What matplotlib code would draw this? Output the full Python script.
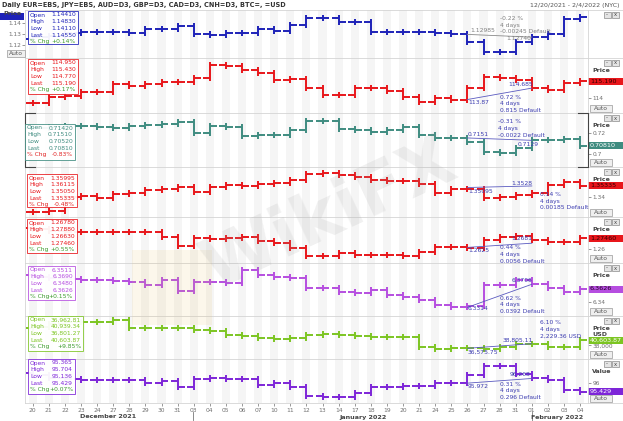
import matplotlib
matplotlib.use("Agg")
import matplotlib.pyplot as plt
import matplotlib.transforms as mtransforms
from matplotlib.patches import Rectangle

W, H = 623, 421

day_labels = ["20", "21", "22", "23", "24", "27", "28", "29", "30", "31",
              "03", "04", "05", "06", "07", "10", "11", "12", "13", "14", "17",
              "18", "19", "20", "21", "24", "25", "26", "27", "28", "31",
              "01", "02", "03", "04"]

# daily closes (open = previous close)
eur_open0 = 1.1257
eur_close = [1.1275, 1.1284, 1.1311, 1.1317, 1.1317, 1.1317, 1.1315, 1.1344, 1.1344, 1.1376,
             1.1299, 1.1293, 1.1308, 1.1308, 1.1344, 1.1331, 1.1378, 1.1442, 1.1449, 1.1412,
             1.1409, 1.1322, 1.1322, 1.1317, 1.1317, 1.1311, 1.1299, 1.1233, 1.1144, 1.1144,
             1.1233, 1.1272, 1.1299, 1.1436, 1.1455]
jpy_open0 = 113.62
jpy_close = [113.60, 114.07, 114.14, 114.43, 114.43, 114.96, 114.86, 114.96, 115.10, 115.14,
             115.39, 116.34, 116.26, 115.98, 115.74, 115.26, 115.34, 114.67, 114.19, 114.19,
             114.67, 114.71, 114.48, 114.07, 113.71, 114.00, 113.87, 114.71, 115.50, 115.43,
             115.26, 114.685, 114.55, 115.03, 115.19]
aud_open0 = 0.7240
aud_close = [0.7240, 0.7250, 0.7262, 0.7262, 0.7250, 0.7246, 0.7262, 0.7271, 0.7278, 0.7302,
             0.7194, 0.7262, 0.7256, 0.7169, 0.7179, 0.7179, 0.7222, 0.7311, 0.7311, 0.7234,
             0.7225, 0.7204, 0.7225, 0.7256, 0.7179, 0.7148, 0.7151, 0.7111, 0.7019, 0.7009,
             0.7061, 0.7129, 0.7132, 0.7142, 0.7081]
gbp_open0 = 1.3215
gbp_close = [1.3221, 1.3233, 1.3400, 1.3408, 1.3381, 1.3432, 1.3441, 1.3480, 1.3488, 1.3512,
             1.3460, 1.3512, 1.3539, 1.3528, 1.3551, 1.3560, 1.3599, 1.3671, 1.3679, 1.3659,
             1.3638, 1.3599, 1.3591, 1.3591, 1.3551, 1.3448, 1.3488, 1.3488, 1.3388, 1.3396,
             1.3420, 1.3448, 1.3539, 1.3579, 1.3533]
cad_open0 = 1.2880
cad_close = [1.2866, 1.2847, 1.2834, 1.2834, 1.2826, 1.2834, 1.2826, 1.2834, 1.2767, 1.2644,
             1.2746, 1.2733, 1.2746, 1.2767, 1.2714, 1.2680, 1.2613, 1.2511, 1.2511, 1.2547,
             1.2524, 1.2524, 1.2524, 1.2511, 1.2568, 1.2635, 1.2625, 1.2613, 1.2724, 1.2767,
             1.2777, 1.2724, 1.2701, 1.2701, 1.2746]
cnh_open0 = 6.3864
cnh_close = [6.3830, 6.3813, 6.3796, 6.3779, 6.3779, 6.3767, 6.3750, 6.3694, 6.3779, 6.3597,
             6.3750, 6.3750, 6.3733, 6.3949, 6.3864, 6.3825, 6.3808, 6.3638, 6.3638, 6.3580,
             6.3553, 6.3609, 6.3524, 6.3490, 6.3439, 6.3354, 6.3314, 6.3330, 6.3694, 6.3694,
             6.3779, 6.3706, 6.3638, 6.3575, 6.3626]
btc_open0 = 46424
btc_close = [46909, 48364, 49334, 49480, 49480, 50304, 46278, 46278, 46278, 46278,
             45454, 45115, 43029, 42690, 41429, 41089, 41429, 43029, 43756, 43029,
             42544, 42301, 42205, 41817, 37209, 36239, 36576, 36576, 36239, 37354,
             38518, 38805, 37064, 37064, 40604]
usd_open0 = 96.595
usd_close = [96.487, 96.297, 96.234, 96.171, 96.171, 96.171, 96.171, 95.962, 96.108, 95.747,
             96.215, 96.278, 96.215, 96.215, 95.854, 95.962, 95.747, 95.177, 95.114, 95.076,
             95.367, 95.747, 95.747, 95.791, 95.791, 95.962, 95.972, 96.487, 97.057, 97.057,
             96.532, 96.268, 96.171, 95.538, 95.429]

# data window boxes (Open, High, Low, Last, % Chg)
eur_box = ["1.14410", "1.14830", "1.14110", "1.14550", "+0.14%"]
jpy_box = ["114.950", "115.430", "114.770", "115.190", "+0.17%"]
aud_box = ["0.71420", "0.71510", "0.70520", "0.70810", "-0.83%"]
gbp_box = ["1.35995", "1.36115", "1.35050", "1.35335", "-0.48%"]
cad_box = ["1.26780", "1.27880", "1.26630", "1.27460", "+0.55%"]
cnh_box = ["6.3511", "6.3690", "6.3480", "6.3626", "+0.15%"]
btc_box = ["36,962.81", "40,939.34", "36,801.27", "40,603.87", "+9.85%"]
usd_box = ["95.365", "95.704", "95.136", "95.429", "+0.07%"]

# measuring-tool annotations (Jan 26 -> Feb 1)
ann_start = [1.12985, 113.87, 0.7151, 1.35095, 1.2625, 6.3314, 36575.75, 95.972]
ann_end = [1.12740, 114.685, 0.7129, 1.3528, 1.2681, 6.3706, 38805.11, 96.268]
ann_start_txt = ["1.12985", "113.87", "0.7151", "1.35095", "1.2625", "6.3314", "36,575.75", "95.972"]
ann_end_txt = ["1.12740", "114.685", "0.7129", "1.3528", "1.2681", "6.3706", "38,805.11", "96.268"]
ann_pct = ["-0.22 %", "0.72 %", "-0.31 %", "0.14 %", "0.44 %", "0.62 %", "6.10 %", "0.31 %"]
ann_diff = ["-0.00245 Default", "0.815 Default", "-0.0022 Default", "0.00185 Default",
            "0.0056 Default", "0.0392 Default", "2,229.36 USD", "0.296 Default"]

RED = "#e8161b"
panels = [
    dict(close=eur_close, open0=eur_open0, box=eur_box, color="#1e22b8", top=10, bot=58,
         ylim=(1.1088, 1.1516), ticks=[1.12, 1.13, 1.14], tl=["1.12", "1.13", "1.14"],
         last=None, lfg="white", box_xy=(28, 11, 78, 44), ann_lbl=(470, 30.7, 531, 39), ann_txt=(500, 18.3)),
    dict(close=jpy_close, open0=jpy_open0, box=jpy_box, color=RED, top=58, bot=113,
         ylim=(112.907, 116.836), ticks=[114], tl=["114"],
         last="115.190", lfg="#300", box_xy=(28, 59, 78, 94), ann_lbl=(468, 102.7, 533, 84.3), ann_txt=(500, 97.3)),
    dict(close=aud_close, open0=aud_open0, box=aud_box, color="#3f8c80", top=113, bot=167,
         ylim=(0.6882, 0.7382), ticks=[0.70, 0.72], tl=["0.7", "0.72"],
         last="0.70810", lfg="white", box_xy=(25, 124, 75, 160), ann_lbl=(468, 135, 539, 144), ann_txt=(498, 121.7)),
    dict(close=gbp_close, open0=gbp_open0, box=gbp_box, color=RED, top=167, bot=217,
         ylim=(1.3158, 1.3754), ticks=[1.34], tl=["1.34"],
         last="1.35335", lfg="#300", box_xy=(27, 174, 77, 207), ann_lbl=(468, 191.7, 532, 183.3), ann_txt=(540, 194.3)),
    dict(close=cad_close, open0=cad_open0, box=cad_box, color=RED, top=217, bot=263,
         ylim=(1.2418, 1.3029), ticks=[1.26], tl=["1.26"],
         last="1.27460", lfg="#300", box_xy=(27, 219, 77, 253), ann_lbl=(468, 250, 532, 238), ann_txt=(500, 248)),
    dict(close=cnh_close, open0=cnh_open0, box=cnh_box, color="#b64ee0", top=263, bot=316,
         ylim=(6.3167, 6.4068), ticks=[6.34], tl=["6.34"],
         last="6.3626", lfg="#200020", box_xy=(28, 266, 75, 300), ann_lbl=(468, 309, 532, 280), ann_txt=(500, 298)),
    dict(close=btc_close, open0=btc_open0, box=btc_box, color="#7cc522", top=316, bot=359,
         ylim=(31389, 52244), ticks=[38000], tl=["38,000"],
         last="40,603.87", lfg="white", box_xy=(28, 316, 83, 351), ann_lbl=(468, 352, 533, 340), ann_txt=(540, 323)),
    dict(close=usd_close, open0=usd_open0, box=usd_box, color="#7d25d8", top=359, bot=403,
         ylim=(94.715, 97.5), ticks=[96], tl=["96"],
         last="95.429", lfg="white", box_xy=(28, 359, 75, 394), ann_lbl=(468, 387, 530, 375), ann_txt=(500, 384)),
]

fig = plt.figure(figsize=(W / 100, H / 100), dpi=100)
fig.patch.set_facecolor("white")


def fx(x):
    return x / W


def fy(y):
    return 1 - y / H


def ftext(x, y, s, **kw):
    kw.setdefault("fontsize", 4.3)
    kw.setdefault("va", "center")
    fig.text(fx(x), fy(y), s, **kw)


def frect(x0, y0, x1, y1, **kw):
    fig.add_artist(Rectangle((fx(x0), fy(y1)), fx(x1) - fx(x0), fy(y0) - fy(y1),
                             transform=fig.transFigure, **kw))


def fline(xs, ys, **kw):
    fig.add_artist(plt.Line2D([fx(v) for v in xs], [fy(v) for v in ys],
                              transform=fig.transFigure, **kw))


X0, X1 = 25, 588
n = len(day_labels)
xs = list(range(n))

for k, p in enumerate(panels):
    top, bot = p["top"], p["bot"]
    ax = fig.add_axes([fx(X0), fy(bot), fx(X1) - fx(X0), (bot - top) / H])
    ax.set_facecolor("none")
    ax.set_xlim(-0.48, n - 0.51)
    ax.set_ylim(*p["ylim"])
    for s in ax.spines.values():
        s.set_visible(False)
    for i in xs:
        ax.axvspan(i - 0.25, i + 0.25, color="#f5f5f5", lw=0, zorder=0)

    rng = p["ylim"][1] - p["ylim"][0]
    d = 3.0 * rng / (bot - top)
    closes = p["close"]
    opens = [p["open0"]] + closes[:-1]
    lows = [min(o, c) - d for o, c in zip(opens, closes)]
    highs = [max(o, c) + d for o, c in zip(opens, closes)]
    col = p["color"]
    ax.hlines(opens, [x - 0.43 for x in xs], xs, color=col, lw=1.4, capstyle="butt", zorder=3)
    ax.hlines(closes, xs, [x + 0.43 for x in xs], color=col, lw=1.4, capstyle="butt", zorder=3)
    ax.vlines(xs, lows, highs, color=col, lw=1.4, capstyle="butt", zorder=3)

    # annotation line
    acol = "#8a8a8a" if k == 0 else "#5a5ac0"
    ax.plot([27, 31], [ann_start[k], ann_end[k]], color=acol, lw=0.6, zorder=4)

    ax.set_yticks(p["ticks"], p["tl"])
    if k == 0:
        ax.yaxis.tick_left()
    else:
        ax.yaxis.tick_right()
    ax.tick_params(axis="y", labelsize=4.2, colors="#707070", length=2, width=0.5, pad=1)
    if k == len(panels) - 1:
        ax.set_xticks(xs, day_labels)
        ax.tick_params(axis="x", labelsize=4.3, colors="#707070", length=2, width=0.5, pad=1.5)
    else:
        ax.set_xticks([])

    # last value label on the price scale
    if p["last"] is not None:
        trans = mtransforms.blended_transform_factory(ax.transAxes, ax.transData)
        hh = 7.0 * rng / (bot - top)
        lv = closes[-1]
        ax.add_patch(Rectangle((1.0, lv - hh / 2), 35 / (X1 - X0), hh, transform=trans,
                               facecolor=col, edgecolor="none", clip_on=False, zorder=10))
        ax.text(1.0 + 2 / (X1 - X0), lv, p["last"], transform=trans, fontsize=4.6,
                color=p["lfg"], va="center", ha="left", clip_on=False, zorder=11)

    # annotation texts
    sx, sy, ex, ey = p["ann_lbl"]
    tcol = "#808080" if k == 0 else "#3b3bb0"
    ftext(sx, sy, ann_start_txt[k], color=tcol, ha="left")
    ftext(ex, ey, ann_end_txt[k], color=tcol, ha="right")
    tx, ty = p["ann_txt"]
    for j, s in enumerate([ann_pct[k], "4 days", ann_diff[k]]):
        ftext(tx, ty + 6.7 * j, s, color=tcol, ha="left")

    # data window box
    bx0, by0, bx1, by1 = p["box_xy"]
    frect(bx0, by0, bx1, by1, facecolor="white", edgecolor=col, lw=0.6, alpha=0.95, zorder=6)
    for j, (lab, val) in enumerate(zip(["Open", "High", "Low", "Last", "% Chg"], p["box"])):
        c = col
        if j == 4:
            c = "#3a9a2a" if val.startswith("+") else "#e02020"
        ftext(bx0 + 2, by0 + 4 + 6.7 * j, lab, color=c, ha="left", zorder=7)
        ftext(bx1 - 2, by0 + 4 + 6.7 * j, val, color=c, ha="right", zorder=7)

    # right side widgets
    frect(604, top + 2, 610.5, top + 8, facecolor="#e4e4e4", edgecolor="#8a8a8a", lw=0.5, zorder=6)
    frect(612, top + 2, 618.5, top + 8, facecolor="#e4e4e4", edgecolor="#8a8a8a", lw=0.5, zorder=6)
    ftext(607.2, top + 5, "-", fontsize=4, color="#444", ha="center", zorder=7)
    ftext(615.2, top + 5, "x", fontsize=3.8, color="#444", ha="center", zorder=7)
    if k == 0:
        frect(0, 13, 24, 20, facecolor=col, edgecolor="none", zorder=6)
        ftext(3, 13.5, "Price", fontsize=4.6, color="#444", ha="left", fontweight="bold", zorder=7)
        frect(7, bot - 7.5, 25, bot - 1, facecolor="#efefef", edgecolor="#9a9a9a", lw=0.5, zorder=6)
        ftext(16, bot - 4.2, "Auto", color="#555", ha="center", zorder=7)
    else:
        lab = "Value" if k == len(panels) - 1 else "Price"
        ftext(592, top + 12.5, lab, fontsize=4.5, color="#444", ha="left", fontweight="bold")
        if k == 6:
            ftext(592, top + 18.5, "USD", fontsize=4.5, color="#444", ha="left", fontweight="bold")
        frect(590, bot - 8, 612, bot - 1, facecolor="#efefef", edgecolor="#9a9a9a", lw=0.5, zorder=6)
        ftext(601, bot - 4.5, "Auto", color="#555", ha="center", zorder=7)

# panel separators and scale lines
for y in [10, 58, 113, 167, 217, 263, 316, 359, 403]:
    fline([X0, W], [y, y], color="#d4d4d4", lw=0.6)
fline([X0, X0], [10, 403], color="#d4d4d4", lw=0.6)
fline([X1, X1], [10, 403], color="#d4d4d4", lw=0.6)

# selected-panel bracket (AUD)
fline([35, X0, X0, 35], [113, 113, 167, 167], color="#444", lw=0.8)
fline([578, X1, X1, 578], [113, 113, 167, 167], color="#444", lw=0.8)

# header
ftext(2, 5, "Daily EUR=EBS, JPY=EBS, AUD=D3, GBP=D3, CAD=D3, CNH=D3, BTC=, =USD",
      fontsize=4.7, color="#333", ha="left", fontweight="bold")
ftext(620, 5, "12/20/2021 - 2/4/2022 (NYC)", fontsize=4.5, color="#555", ha="right")

# month labels
ftext(108, 417, "December 2021", fontsize=4.6, color="#444", ha="center", fontweight="bold")
ftext(363, 417, "January 2022", fontsize=4.6, color="#444", ha="center", fontweight="bold")
ftext(557, 417, "February 2022", fontsize=4.6, color="#444", ha="center", fontweight="bold")
fline([193, 193], [412, 420], color="#777", lw=0.6)
fline([532, 532], [412, 420], color="#777", lw=0.6)

# watermark
ftext(330, 215, "WikiFX", fontsize=50, color="#9a9a9a", alpha=0.14, ha="center",
      fontweight="bold", rotation=25, zorder=8)
frect(132, 250, 212, 325, facecolor="#e8c060", edgecolor="none", alpha=0.12, zorder=8)

fig.savefig("out.png", dpi=100, facecolor="white")
